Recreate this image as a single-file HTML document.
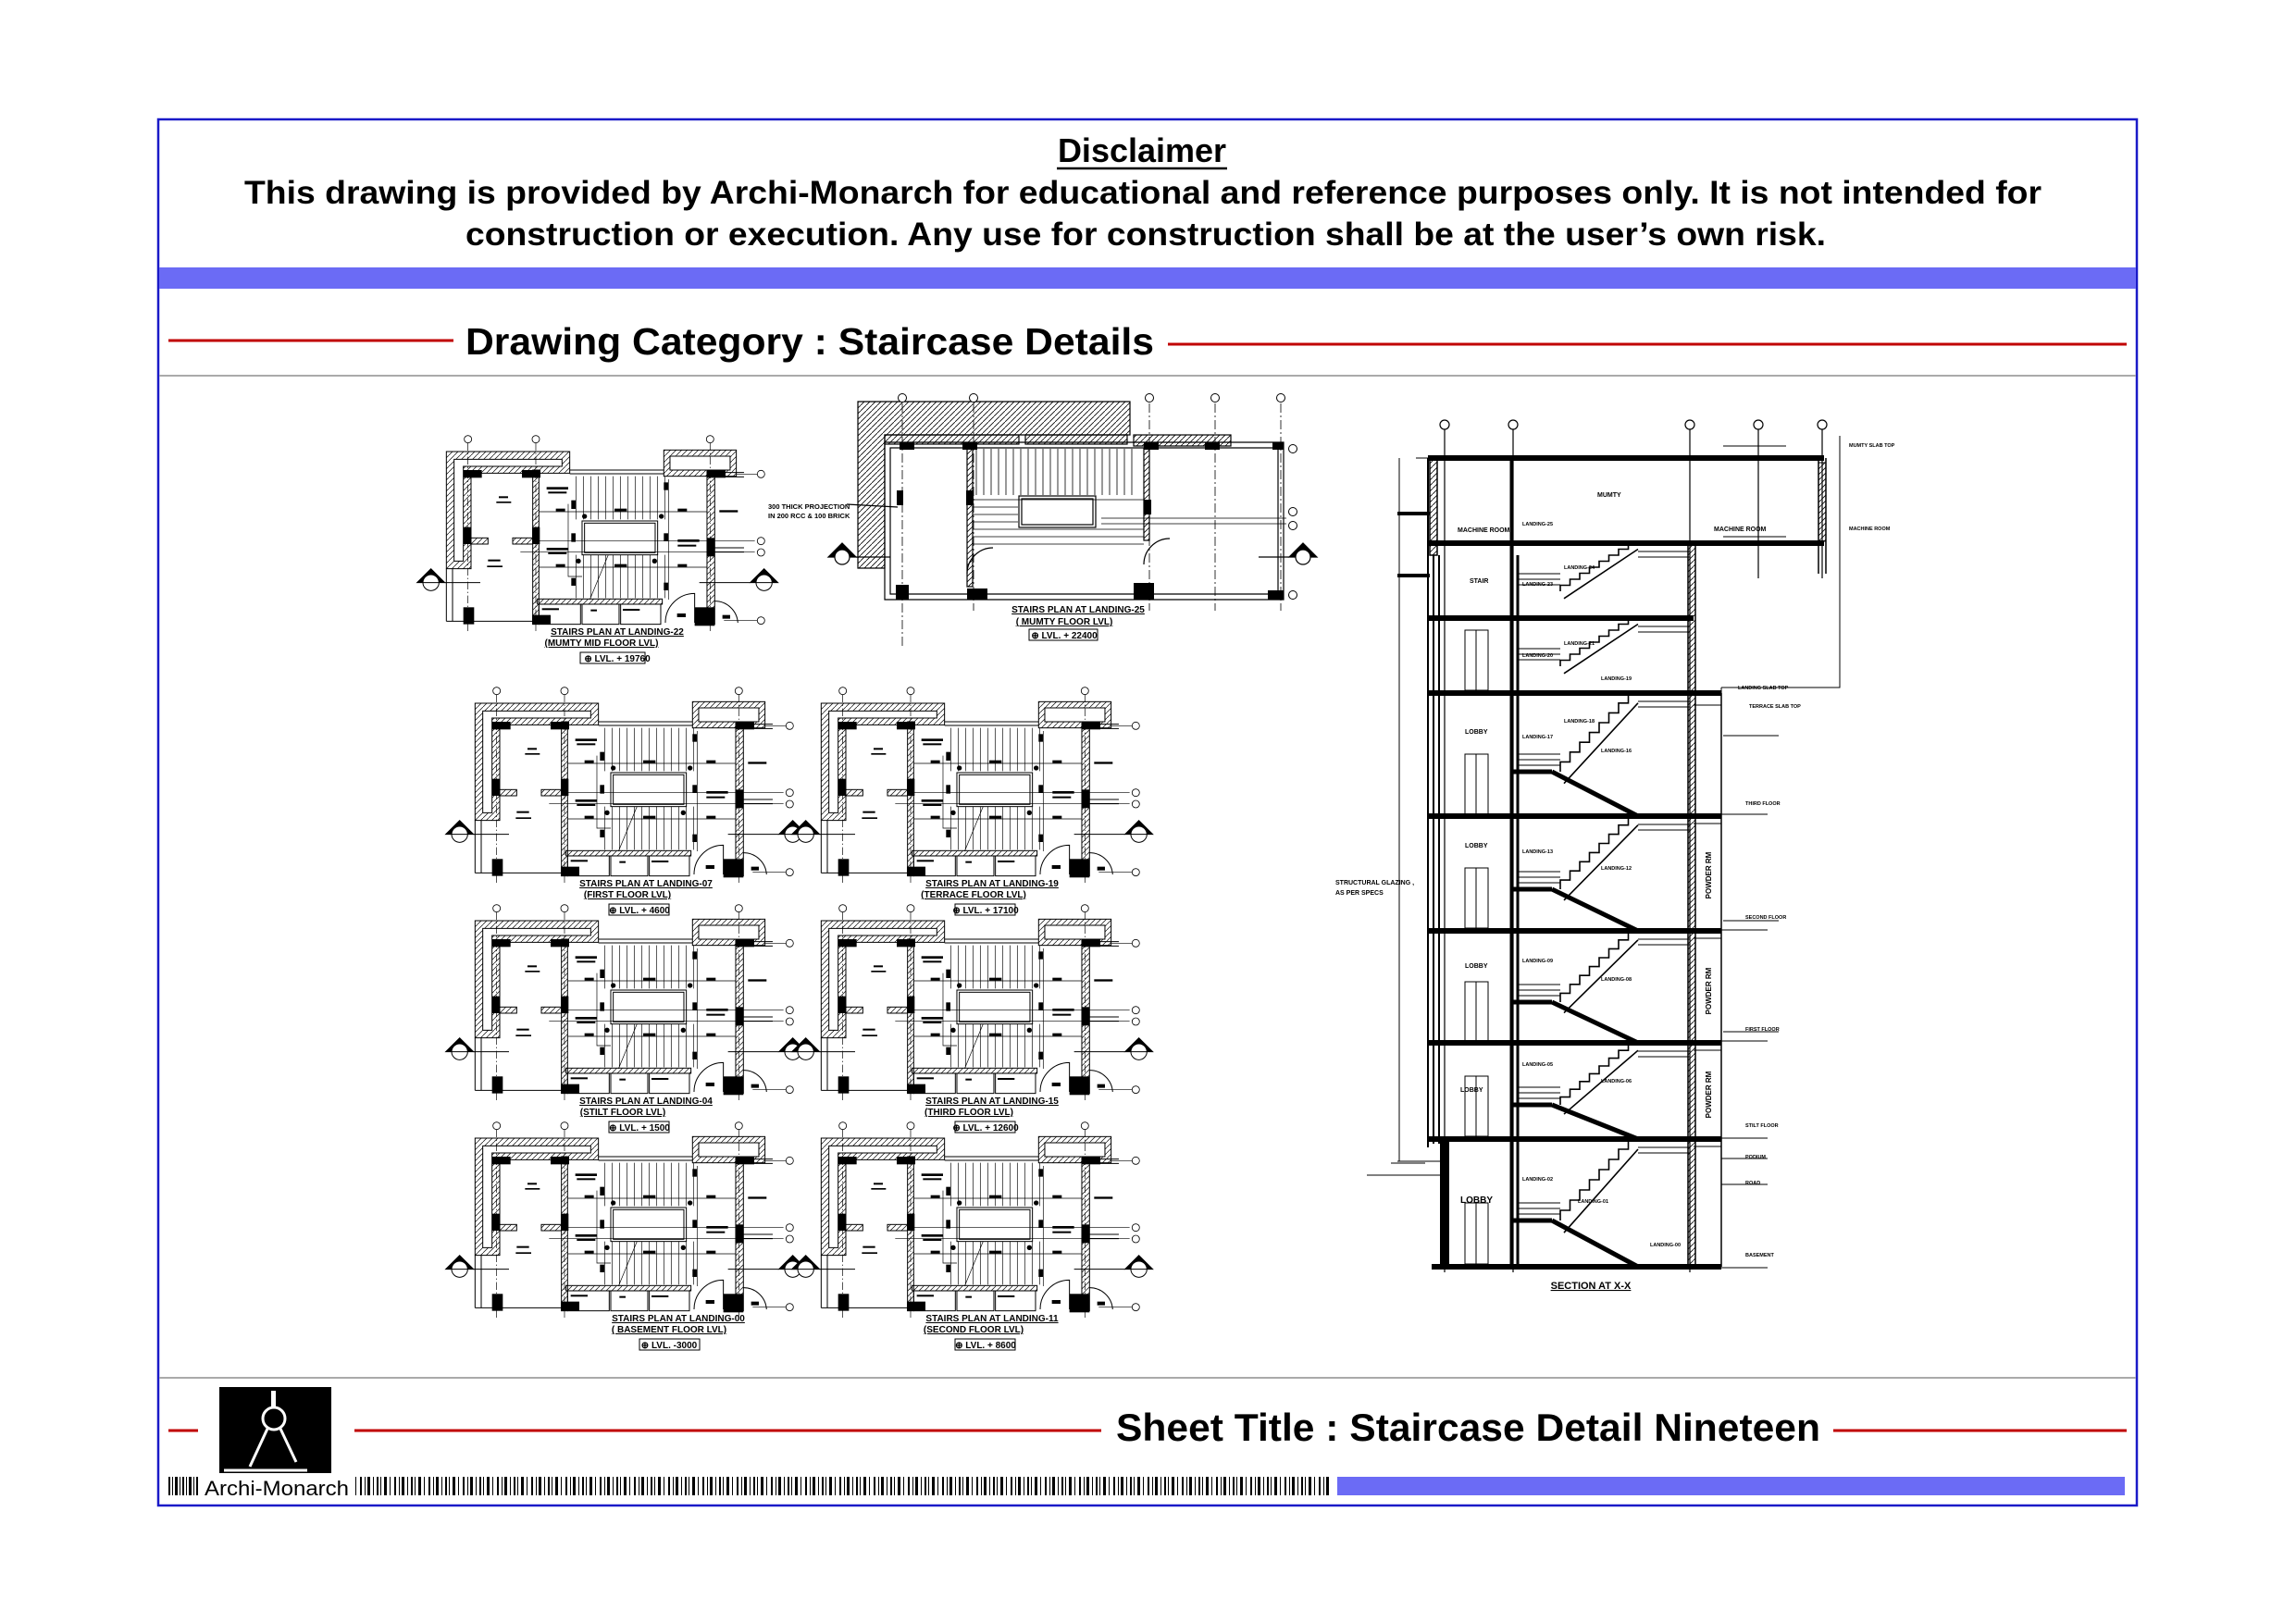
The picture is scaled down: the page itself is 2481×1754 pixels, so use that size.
<!DOCTYPE html>
<html><head><meta charset="utf-8"><style>
html,body{margin:0;padding:0;background:#fff;}
svg{display:block;}
text{font-family:"Liberation Sans",Arial,sans-serif;}
</style></head><body>
<svg width="2481" height="1754" viewBox="0 0 2481 1754" xmlns="http://www.w3.org/2000/svg">
<defs>
<pattern id="h" patternUnits="userSpaceOnUse" width="18" height="18"><path d="M0 18 L18 0" stroke="#000" stroke-width="2"/></pattern>
<pattern id="h2" patternUnits="userSpaceOnUse" width="6" height="6"><path d="M0 6 L6 0" stroke="#000" stroke-width="0.8"/></pattern>
<pattern id="bc" patternUnits="userSpaceOnUse" width="37" height="20"><rect x="0" width="2" height="20" fill="#000"/><rect x="4" width="1" height="20" fill="#000"/><rect x="8" width="3" height="20" fill="#000"/><rect x="14" width="1" height="20" fill="#000"/><rect x="19" width="2" height="20" fill="#000"/><rect x="24" width="1" height="20" fill="#000"/><rect x="27" width="3" height="20" fill="#000"/><rect x="33" width="1" height="20" fill="#000"/></pattern>
<g id="plan" fill="none" stroke="#000" stroke-width="3">
 <path d="M100 60 H500 V130 H180 V440 H100 Z" fill="url(#h)"/>
 <path d="M125 85 H475 V108 H155 V415 H125 Z" fill="#fff"/>
 <rect x="805" y="55" width="235" height="85" fill="url(#h)"/>
 <rect x="825" y="75" width="195" height="45" fill="#fff"/>
 <path d="M500 120 H805 M500 132 H805"/>
 <rect x="380" y="120" width="20" height="500" fill="url(#h)"/>
 <rect x="945" y="120" width="25" height="500" fill="url(#h)"/>
 <path d="M100 440 V610 M120 440 V610 M100 610 H380"/>
 <rect x="180" y="340" width="55" height="20" fill="url(#h)"/>
 <rect x="315" y="340" width="65" height="20" fill="url(#h)"/>
 <rect x="395" y="538" width="405" height="17" fill="url(#h)"/>
 <path d="M970 128 H1065 M970 142 H1065 M970 372 H1065 M970 386 H1065"/>
 <g fill="#000" stroke="none">
  <rect x="155" y="120" width="60" height="25"/><rect x="345" y="120" width="60" height="25"/><rect x="945" y="120" width="60" height="25"/>
  <rect x="155" y="305" width="25" height="55"/><rect x="378" y="305" width="25" height="55"/><rect x="945" y="340" width="25" height="60"/>
  <rect x="155" y="565" width="35" height="55"/><rect x="378" y="590" width="60" height="30"/><rect x="905" y="565" width="65" height="60"/>
 </g>
 <path stroke-width="2" d="M520 140V280M544 140V280M568 140V280M592 140V280M616 140V280M640 140V280M664 140V280M688 140V280M712 140V280M736 140V280M760 140V280M784 140V280M808 140V280
 M520 395V535M544 395V535M568 395V535M592 395V535M616 395V535M640 395V535M664 395V535M688 395V535M712 395V535M736 395V535M760 395V535M784 395V535M808 395V535"/>
 <rect x="540" y="285" width="245" height="110" fill="#fff"/>
 <rect x="548" y="292" width="229" height="96"/>
 <path stroke-width="2" d="M400 255 H945 M400 435 H945 M400 350 H1100 M340 385 H1100 M495 230 V465 H540 M820 150 V540"/>
 <path stroke-width="2" d="M565 540 L625 395"/>
 <rect x="400" y="555" width="135" height="65"/><rect x="540" y="555" width="120" height="65"/><rect x="665" y="555" width="130" height="65"/>
 <path d="M810 615 A95 95 0 0 1 905 520 V615"/>
 <path d="M970 545 A75 75 0 0 1 1045 615"/>
 <path stroke-width="2" stroke-dasharray="25 8 4 8" d="M170 32 V650 M390 32 V650 M955 32 V650"/>
 <g stroke-width="2.5"><circle cx="170" cy="20" r="12"/><circle cx="390" cy="20" r="12"/><circle cx="955" cy="20" r="12"/>
 <circle cx="1120" cy="133" r="12"/><circle cx="1120" cy="350" r="12"/><circle cx="1120" cy="387" r="12"/><circle cx="1120" cy="608" r="12"/></g>
 <path stroke-width="2" d="M1040 133 H1108 M1000 608 H1108"/>
 <path d="M5 485 L50 440 L95 485 Z" fill="#000"/><circle cx="50" cy="485" r="26" fill="#fff"/><path d="M24 485 H76"/><path d="M95 485 H210" stroke-width="3"/>
 <path d="M1085 485 L1130 440 L1175 485 Z" fill="#000"/><circle cx="1130" cy="485" r="26" fill="#fff"/><path d="M1104 485 H1156"/><path d="M920 485 H1085" stroke-width="3"/>
 <g fill="#000" stroke="none">
  <rect x="270" y="205" width="30" height="6"/><rect x="262" y="222" width="48" height="5"/>
  <rect x="235" y="410" width="40" height="6"/><rect x="232" y="430" width="50" height="5"/>
  <rect x="425" y="175" width="70" height="8"/><rect x="430" y="190" width="60" height="6"/>
  <rect x="425" y="372" width="70" height="8"/><rect x="430" y="387" width="60" height="6"/>
  <rect x="850" y="345" width="70" height="8"/><rect x="850" y="362" width="60" height="6"/>
  <rect x="985" y="250" width="60" height="7"/><rect x="455" y="245" width="30" height="9"/><rect x="645" y="245" width="40" height="9"/><rect x="850" y="245" width="30" height="9"/>
  <rect x="455" y="425" width="30" height="9"/><rect x="645" y="425" width="40" height="9"/><rect x="850" y="425" width="30" height="9"/>
  <rect x="505" y="218" width="14" height="28"/><rect x="805" y="160" width="14" height="25"/><rect x="505" y="470" width="14" height="25"/><rect x="805" y="485" width="14" height="25"/>
  <rect x="505" y="325" width="14" height="28"/><rect x="805" y="325" width="14" height="25"/>
  <circle cx="548" cy="270" r="8"/><circle cx="797" cy="270" r="8"/><circle cx="528" cy="415" r="8"/><circle cx="775" cy="415" r="8"/>
  <rect x="848" y="585" width="28" height="12"/><rect x="995" y="590" width="25" height="12"/>
  <rect x="410" y="568" width="55" height="6"/><rect x="568" y="572" width="20" height="6"/><rect x="672" y="570" width="55" height="6"/>
 </g>
</g>
<g id="steps" fill="none" stroke="#000" stroke-width="1.6">
 <path vector-effect="non-scaling-stroke" d="M0 0 v-10 h10.5 v-10 h10.5 v-10 h10.5 v-10 h10.5 v-10 h10.5 v-10 h10.5 v-10 h10.5 v-10 h10.5"/>
 <path vector-effect="non-scaling-stroke" d="M4 12 L84 -70"/>
</g>
</defs>

<!-- frame -->
<rect x="171" y="129" width="2138" height="1498" fill="none" stroke="#1a1ac8" stroke-width="2.5"/>
<rect x="172" y="289" width="2136" height="23" fill="#6b6bf5"/>
<line x1="172" y1="406" x2="2308" y2="406" stroke="#aaa" stroke-width="2"/>
<line x1="172" y1="1489" x2="2308" y2="1489" stroke="#aaa" stroke-width="2"/>

<!-- disclaimer -->
<text x="1234" y="175" font-size="36" font-weight="bold" text-anchor="middle">Disclaimer</text>
<line x1="1142" y1="182" x2="1326" y2="182" stroke="#000" stroke-width="2.5"/>
<text x="264" y="220" font-size="35" font-weight="bold" textLength="1942" lengthAdjust="spacingAndGlyphs">This drawing is provided by Archi-Monarch for educational and reference purposes only. It is not intended for</text>
<text x="503" y="265" font-size="35" font-weight="bold" textLength="1470" lengthAdjust="spacingAndGlyphs">construction or execution. Any use for construction shall be at the user’s own risk.</text>

<!-- category -->
<line x1="182" y1="368" x2="490" y2="368" stroke="#c00000" stroke-width="3"/>
<line x1="1262" y1="372" x2="2298" y2="372" stroke="#c00000" stroke-width="3"/>
<text x="503" y="383" font-size="41" font-weight="bold" textLength="744" lengthAdjust="spacingAndGlyphs">Drawing Category : Staircase Details</text>

<!-- plans -->
<g transform="translate(449,468) scale(0.3333)"><use href="#plan"/></g>
<g transform="translate(480,740) scale(0.3333)"><use href="#plan"/></g>
<g transform="translate(854,740) scale(0.3333)"><use href="#plan"/></g>
<g transform="translate(480,975) scale(0.3333)"><use href="#plan"/></g>
<g transform="translate(854,975) scale(0.3333)"><use href="#plan"/></g>
<g transform="translate(480,1210) scale(0.3333)"><use href="#plan"/></g>
<g transform="translate(854,1210) scale(0.3333)"><use href="#plan"/></g>

<g font-size="10" font-weight="bold" text-anchor="middle">
 <g transform="translate(482,488)"><text x="185" y="198" text-decoration="underline">STAIRS PLAN AT LANDING-22</text><text x="168" y="210" text-decoration="underline">(MUMTY MID FLOOR LVL)</text><rect x="145" y="217" width="70" height="12" fill="none" stroke="#000"/><text x="185" y="227">⊕ LVL. + 19760</text></g>
 <g transform="translate(513,760)"><text x="185" y="198" text-decoration="underline">STAIRS PLAN AT LANDING-07</text><text x="165" y="210" text-decoration="underline">(FIRST FLOOR LVL)</text><rect x="145" y="217" width="65" height="12" fill="none" stroke="#000"/><text x="178" y="227">⊕ LVL. + 4600</text></g>
 <g transform="translate(887,760)"><text x="185" y="198" text-decoration="underline">STAIRS PLAN AT LANDING-19</text><text x="165" y="210" text-decoration="underline">(TERRACE FLOOR LVL)</text><rect x="145" y="217" width="65" height="12" fill="none" stroke="#000"/><text x="178" y="227">⊕ LVL. + 17100</text></g>
 <g transform="translate(513,995)"><text x="185" y="198" text-decoration="underline">STAIRS PLAN AT LANDING-04</text><text x="160" y="210" text-decoration="underline">(STILT FLOOR LVL)</text><rect x="145" y="217" width="65" height="12" fill="none" stroke="#000"/><text x="178" y="227">⊕ LVL. + 1500</text></g>
 <g transform="translate(887,995)"><text x="185" y="198" text-decoration="underline">STAIRS PLAN AT LANDING-15</text><text x="160" y="210" text-decoration="underline">(THIRD FLOOR LVL)</text><rect x="145" y="217" width="65" height="12" fill="none" stroke="#000"/><text x="178" y="227">⊕ LVL. + 12600</text></g>
 <g transform="translate(513,1230)"><text x="220" y="198" text-decoration="underline">STAIRS PLAN AT LANDING-00</text><text x="210" y="210" text-decoration="underline">( BASEMENT FLOOR LVL)</text><rect x="178" y="217" width="65" height="12" fill="none" stroke="#000"/><text x="210" y="227">⊕ LVL. -3000</text></g>
 <g transform="translate(887,1230)"><text x="185" y="198" text-decoration="underline">STAIRS PLAN AT LANDING-11</text><text x="165" y="210" text-decoration="underline">(SECOND FLOOR LVL)</text><rect x="145" y="217" width="65" height="12" fill="none" stroke="#000"/><text x="178" y="227">⊕ LVL. + 8600</text></g>
</g>

<!-- plan landing-25 -->
<g fill="none" stroke="#000" stroke-width="1.2">
 <path d="M927 434 H1221 V470 H956 V614 H927 Z" fill="url(#h2)"/>
 <rect x="956" y="470" width="145" height="10" fill="url(#h2)"/><rect x="1108" y="470" width="110" height="10" fill="url(#h2)"/><rect x="1225" y="470" width="105" height="12" fill="url(#h2)"/>
 <path d="M956 478 H1387 V648 H956 Z M962 484 H1381 V642 H962 Z"/>
 <rect x="1045" y="484" width="6" height="150" fill="url(#h2)"/><rect x="1236" y="484" width="6" height="100" fill="url(#h2)"/>
 <rect x="1101" y="536" width="83" height="34"/><rect x="1104" y="539" width="77" height="28"/>
 <path stroke-width="0.8" d="M1055 485V535M1063 485V535M1071 485V535M1079 485V535M1087 485V535M1095 485V535M1103 485V535M1111 485V535M1119 485V535M1127 485V535M1135 485V535M1143 485V535M1151 485V535M1159 485V535M1167 485V535M1175 485V535M1183 485V535M1191 485V535M1199 485V535M1207 485V535M1215 485V535M1223 485V535
 M1051 540 H1236 M1051 548 H1100 M1051 556 H1100 M1051 564 H1100 M1051 572 H1236 M1051 580 H1236 M1051 588 H1236 M1190 560 H1390 M1190 566 H1390"/>
 <path d="M1045 620 A28 28 0 0 1 1073 592 M1236 610 A28 28 0 0 1 1264 582"/>
 <g fill="#000" stroke="none"><rect x="972" y="478" width="16" height="8"/><rect x="1040" y="478" width="16" height="8"/><rect x="1236" y="478" width="16" height="8"/><rect x="1302" y="478" width="16" height="8"/><rect x="1375" y="478" width="12" height="8"/>
 <rect x="969" y="530" width="7" height="16"/><rect x="1044" y="530" width="8" height="16"/><rect x="1236" y="540" width="8" height="16"/>
 <rect x="968" y="632" width="14" height="16"/><rect x="1045" y="636" width="22" height="12"/><rect x="1225" y="630" width="22" height="18"/><rect x="1370" y="638" width="17" height="10"/></g>
 <path stroke-dasharray="10 3 2 3" stroke-width="0.8" d="M975 436 V700 M1052 436 V660 M1242 436 V660 M1313 436 V660 M1384 436 V660"/>
 <g stroke-width="1"><circle cx="975" cy="430" r="4.5" fill="#fff"/><circle cx="1052" cy="430" r="4.5" fill="#fff"/><circle cx="1242" cy="430" r="4.5" fill="#fff"/><circle cx="1313" cy="430" r="4.5" fill="#fff"/><circle cx="1384" cy="430" r="4.5" fill="#fff"/>
 <circle cx="1397" cy="485" r="4.5"/><circle cx="1397" cy="553" r="4.5"/><circle cx="1397" cy="568" r="4.5"/><circle cx="1397" cy="643" r="4.5"/></g>
 <path d="M895 602 L910 587 L925 602 Z" fill="#000"/><circle cx="910" cy="602" r="8" fill="#fff"/><path d="M925 602 H962"/>
 <path d="M1393 602 L1408 587 L1423 602 Z" fill="#000"/><circle cx="1408" cy="602" r="8" fill="#fff"/><path d="M1360 602 H1393"/>
 <path d="M915 545 L970 548"/>
</g>
<g font-size="7.5" font-weight="bold"><text x="830" y="550">300 THICK PROJECTION</text><text x="830" y="560">IN 200 RCC &amp; 100 BRICK</text></g>
<g font-size="10" font-weight="bold" text-anchor="middle"><text x="1165" y="662" text-decoration="underline">STAIRS PLAN AT LANDING-25</text><text x="1150" y="675" text-decoration="underline">( MUMTY  FLOOR LVL)</text><rect x="1112" y="680" width="74" height="12" fill="none" stroke="#000"/><text x="1150" y="690">⊕ LVL. + 22400</text></g>

<!-- section -->
<g fill="none" stroke="#000">
 <g stroke-width="6"><path d="M1543 495 H1971 M1543 587 H1971 M1543 668 H1830 M1543 749 H1860 M1543 882 H1860 M1543 1006 H1860 M1543 1127 H1860 M1543 1231 H1860 M1547 1369 H1860"/></g>
 <path stroke-width="2" d="M1543 495 V1240 M1549 600 V1236 M1555 600 V1236"/>
 <rect x="1545" y="495" width="8" height="105" fill="url(#h2)" stroke-width="1.5"/>
 <path stroke-width="3" d="M1633 495 V1369 M1640 600 V1369"/>
 <rect x="1824" y="587" width="8" height="782" fill="url(#h2)" stroke-width="1.5"/>
 <path stroke-width="1.5" d="M1860 749 V1369 M1965 495 V620 M1973 495 V620"/>
 <rect x="1965" y="500" width="8" height="85" fill="url(#h2)" stroke-width="1"/>
 <rect x="1556" y="1231" width="10" height="138" fill="#000" stroke="none"/>
 <path stroke-width="1.2" d="M1561 455 V1375 M1635 455 V1375 M1826 455 V1375 M1900 455 V625 M1969 455 V625"/>
 <g stroke-width="1.2"><circle cx="1561" cy="459" r="5" fill="#fff"/><circle cx="1635" cy="459" r="5" fill="#fff"/><circle cx="1826" cy="459" r="5" fill="#fff"/><circle cx="1900" cy="459" r="5" fill="#fff"/><circle cx="1969" cy="459" r="5" fill="#fff"/></g>
 <path stroke-width="1" d="M1988 471 V743 H1860 M1860 743 V760 M1530 495 H1543 M1510 1255 H1556 M1512 495 V1255 M1503 1257 H1540 M1477 1270 H1556"/>
 <path stroke-width="4" d="M1510 555 H1545 M1510 622 H1545"/>
 <path stroke-width="1" d="M1830 762 H1860 M1830 890 H1860 M1830 1014 H1860 M1830 1135 H1860 M1830 1239 H1860 M1862 795 H1922 M1862 995 H1922 M1862 1115 H1922"/>
 <path stroke-width="1" d="M1862 482 H1930 M1862 580 H1930 M1860 1252 H1910 M1860 1280 H1910 M1860 1370 H1910 M1860 880 H1910 M1860 1005 H1910 M1860 1125 H1910 M1860 1230 H1910"/>
 <g stroke-width="1"><rect x="1583" y="681" width="25" height="65"/><path d="M1595 681 V746"/>
 <rect x="1583" y="815" width="25" height="65"/><path d="M1595 815 V880"/>
 <rect x="1583" y="938" width="25" height="65"/><path d="M1595 938 V1003"/>
 <rect x="1583" y="1061" width="25" height="65"/><path d="M1595 1061 V1126"/>
 <rect x="1583" y="1163" width="25" height="65"/><path d="M1595 1163 V1228"/>
 <rect x="1583" y="1300" width="25" height="66"/><path d="M1595 1300 V1366"/></g>
 <g stroke-width="5"><path d="M1633 1319 H1677 M1633 1194 H1677 M1633 1083 H1677 M1633 961 H1677 M1633 834 H1677"/></g>
 <g stroke-width="5"><path d="M1677 1319 L1770 1369 M1677 1194 L1770 1231 M1677 1083 L1770 1127 M1677 961 L1770 1006 M1677 834 L1770 882"/></g>
 <g stroke-width="1"><path d="M1640 1300 H1686 M1640 1306 H1686 M1640 1312 H1686 M1640 1175 H1686 M1640 1181 H1686 M1640 1187 H1686 M1640 1064 H1686 M1640 1070 H1686 M1640 1076 H1686 M1640 942 H1686 M1640 948 H1686 M1640 954 H1686 M1640 815 H1686 M1640 821 H1686 M1640 827 H1686 M1640 701 H1686 M1640 707 H1686 M1640 713 H1686 M1640 620 H1686 M1640 626 H1686 M1640 632 H1686
 M1770 1240 H1826 M1770 1246 H1826 M1770 1136 H1826 M1770 1142 H1826 M1770 1015 H1826 M1770 1021 H1826 M1770 891 H1826 M1770 897 H1826 M1770 758 H1826 M1770 764 H1826 M1770 677 H1826 M1770 683 H1826 M1770 596 H1826 M1770 602 H1826"/></g>
</g>
<use href="#steps" transform="translate(1686,1319) scale(1,1.1)"/>
<use href="#steps" transform="translate(1686,1194) scale(1,0.84)"/>
<use href="#steps" transform="translate(1686,1083) scale(1,0.96)"/>
<use href="#steps" transform="translate(1686,961) scale(1,0.99)"/>
<use href="#steps" transform="translate(1686,834) scale(1,1.06)"/>
<use href="#steps" transform="translate(1686,720) scale(1,0.65)"/>
<use href="#steps" transform="translate(1686,639) scale(1,0.65)"/>
<g font-size="7" font-weight="bold">
 <text x="1583" y="793">LOBBY</text><text x="1583" y="916">LOBBY</text><text x="1583" y="1046">LOBBY</text><text x="1578" y="1180">LOBBY</text><text x="1578" y="1300" font-size="10">LOBBY</text>
 <text x="1575" y="575">MACHINE ROOM</text><text x="1726" y="537">MUMTY</text><text x="1852" y="574">MACHINE ROOM</text><text x="1588" y="630">STAIR</text>
 <text x="1443" y="956">STRUCTURAL GLAZING ,</text><text x="1443" y="967">AS PER SPECS</text>
 <text x="1878" y="745" font-size="5.5">LANDING SLAB TOP</text><text x="1890" y="765" font-size="5.5">TERRACE SLAB TOP</text>
 <text x="1886" y="870" font-size="5.5">THIRD FLOOR</text><text x="1886" y="993" font-size="5.5">SECOND FLOOR</text><text x="1886" y="1114" font-size="5.5">FIRST FLOOR</text>
 <text x="1886" y="1218" font-size="5.5">STILT FLOOR</text><text x="1886" y="1252" font-size="5.5">PODIUM</text><text x="1886" y="1280" font-size="5.5">ROAD</text><text x="1886" y="1358" font-size="5.5">BASEMENT</text>
 <text x="1998" y="483" font-size="5.5">MUMTY SLAB TOP</text><text x="1998" y="573" font-size="5.5">MACHINE ROOM</text>
</g>
<g font-size="8" font-weight="bold" text-anchor="middle">
 <text transform="translate(1849,946) rotate(-90)">POWDER RM</text>
 <text transform="translate(1849,1071) rotate(-90)">POWDER RM</text>
 <text transform="translate(1849,1183) rotate(-90)">POWDER RM</text>
</g>
<g font-size="5.5" font-weight="bold">
 <text x="1645" y="568">LANDING-25</text><text x="1690" y="615">LANDING-24</text><text x="1645" y="633">LANDING-23</text>
 <text x="1690" y="697">LANDING-21</text><text x="1645" y="710">LANDING-20</text><text x="1730" y="735">LANDING-19</text>
 <text x="1690" y="781">LANDING-18</text><text x="1645" y="798">LANDING-17</text><text x="1730" y="813">LANDING-16</text>
 <text x="1645" y="922">LANDING-13</text><text x="1730" y="940">LANDING-12</text><text x="1645" y="1040">LANDING-09</text>
 <text x="1730" y="1060">LANDING-08</text><text x="1645" y="1152">LANDING-05</text><text x="1730" y="1170">LANDING-06</text>
 <text x="1645" y="1276">LANDING-02</text><text x="1705" y="1300">LANDING-01</text><text x="1783" y="1347">LANDING-00</text>
</g>
<text x="1719" y="1393" font-size="11" font-weight="bold" text-anchor="middle" text-decoration="underline">SECTION AT X-X</text>

<!-- footer -->
<line x1="182" y1="1546" x2="214" y2="1546" stroke="#c00000" stroke-width="3"/>
<line x1="383" y1="1546" x2="1190" y2="1546" stroke="#c00000" stroke-width="3"/>
<line x1="1981" y1="1546" x2="2298" y2="1546" stroke="#c00000" stroke-width="3"/>
<text x="1206" y="1557" font-size="42" font-weight="bold" textLength="761" lengthAdjust="spacingAndGlyphs">Sheet Title : Staircase Detail Nineteen</text>
<rect x="237" y="1499" width="121" height="93" fill="#000"/>
<g stroke="#fff" fill="none" stroke-width="3">
 <rect x="293" y="1503" width="5" height="17" fill="#fff" stroke="none"/>
 <circle cx="296" cy="1533" r="12"/>
 <path d="M289 1544 L270 1585 M303 1544 L320 1580 M242 1589 H332"/>
</g>
<text x="221" y="1616" font-size="22" textLength="156" lengthAdjust="spacingAndGlyphs">Archi-Monarch</text>
<g fill="#000">
 <rect x="182" y="1596" width="2" height="20"/><rect x="186" y="1596" width="1" height="20"/><rect x="189" y="1596" width="3" height="20"/><rect x="194" y="1596" width="1" height="20"/><rect x="197" y="1596" width="2" height="20"/><rect x="201" y="1596" width="1" height="20"/><rect x="204" y="1596" width="3" height="20"/><rect x="209" y="1596" width="1" height="20"/><rect x="212" y="1596" width="2" height="20"/>
</g>
<rect x="383" y="1596" width="1054" height="20" fill="url(#bc)"/>
<rect x="1445" y="1596" width="851" height="20" fill="#6b6bf5"/>
</svg>
</body></html>
